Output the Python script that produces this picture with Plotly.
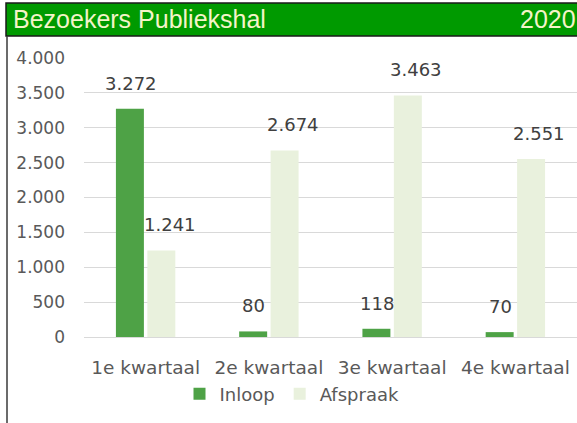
import plotly.graph_objects as go

categories = ["1e kwartaal", "2e kwartaal", "3e kwartaal", "4e kwartaal"]
inloop = [3272, 80, 118, 70]
afspraak = [1241, 2674, 3463, 2551]
series_names = ["Inloop", "Afspraak"]
title_left = "Bezoekers Publiekshal"
title_right = "2020"
y_ticks = [0, 500, 1000, 1500, 2000, 2500, 3000, 3500, 4000]

W, H = 577, 423
L, R, T, B = 84, 0, 58, 86
pw, ph = W - L - R, H - T - B

def px_x(x):
    return (x - L) / pw

def px_y(y):
    return (H - B - y) / ph

def fmt(v):
    return f"{v:,}".replace(",", ".")

fig = go.Figure()
fig.add_bar(name=series_names[0], x=categories, y=inloop, marker_color="#4EA246",
            marker_line_width=0)
fig.add_bar(name=series_names[1], x=categories, y=afspraak, marker_color="#E9F1DD",
            marker_line_width=0)

font = "DejaVu Sans"
annotations = []
for vals, shift in ((inloop, -15), (afspraak, 24)):
    for c, v in zip(categories, vals):
        annotations.append(dict(x=c, y=v, xref="x", yref="y", text=fmt(v),
                                showarrow=False, yanchor="bottom", xshift=shift,
                                yshift=13,
                                font=dict(family=font, size=18, color="#404040")))

annotations.append(dict(x=px_x(11), y=px_y(19), xref="paper", yref="paper",
                        text=title_left, showarrow=False, xanchor="left",
                        yanchor="middle",
                        font=dict(family="Liberation Sans", size=25, color="#F4F4C8")))
annotations.append(dict(x=px_x(578), y=px_y(19), xref="paper", yref="paper",
                        text=title_right, showarrow=False, xanchor="right",
                        yanchor="middle",
                        font=dict(family="Liberation Sans", size=25, color="#F4F4C8")))

shapes = [
    dict(type="rect", xref="paper", yref="paper", x0=px_x(6), x1=px_x(580),
         y0=px_y(36), y1=px_y(3), fillcolor="#009A00",
         line=dict(color="#1A1A1A", width=1.5), layer="above"),
    dict(type="line", xref="paper", yref="paper", x0=px_x(7), x1=px_x(7),
         y0=px_y(36), y1=px_y(425), line=dict(color="#3A3A3A", width=1.5)),
]

fig.update_layout(
    width=W, height=H,
    margin=dict(l=L, r=R, t=T, b=B, pad=0),
    paper_bgcolor="white", plot_bgcolor="white",
    separators=",.",
    barmode="group", bargap=0.49, bargroupgap=0.11,
    showlegend=True,
    legend=dict(orientation="h", x=px_x(292), y=px_y(394), xanchor="center",
                yanchor="middle", font=dict(family=font, size=18, color="#595959"),
                itemwidth=30, traceorder="normal"),
    annotations=annotations,
    shapes=shapes,
    font=dict(family=font, size=17, color="#595959"),
)
fig.update_xaxes(showgrid=False, showline=False, ticks="", ticklabelstandoff=17,
                 tickfont=dict(family=font, size=18.5, color="#595959"))
fig.update_yaxes(range=[0, 4000], tickvals=y_ticks,
                 ticktext=[fmt(v) for v in y_ticks],
                 showgrid=True, gridcolor="#D9D9D9", gridwidth=1,
                 zeroline=True, zerolinecolor="#D9D9D9", zerolinewidth=1,
                 showline=False, ticks="", ticklabelstandoff=18,
                 tickfont=dict(family=font, size=17, color="#595959"))

fig.write_html("out.html", config={"displayModeBar": False},
               post_script="document.body.style.margin='0';document.body.style.overflow='hidden';")
